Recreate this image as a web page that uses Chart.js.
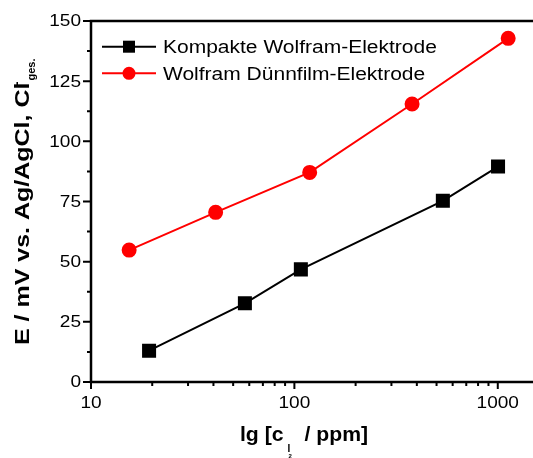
<!DOCTYPE html>
<html>
<head>
<meta charset="utf-8">
<script src="https://cdn.jsdelivr.net/npm/chart.js@4"></script>
<style>
  body { margin: 0; background: #fff; }
  #wrap { width: 533px; height: 458px; }
</style>
</head>
<body>
<div id="wrap"><canvas id="grafik"></canvas></div>
<script>
const kompaktX = [19.3, 57.1, 107.6, 537, 1003];
const kompaktY = [13.0, 32.7, 46.8, 75.3, 89.5];
const duennX = [15.4, 41.0, 118.9, 379, 1125];
const duennY = [54.8, 70.5, 87.1, 115.5, 142.8];
const serienNamen = ['Kompakte Wolfram-Elektrode', 'Wolfram Dünnfilm-Elektrode'];

// Achsenbeschriftung
const xHauptTicks = [10, 100, 1000];
const xNebenTicks = [20, 30, 40, 50, 60, 70, 80, 90, 200, 300, 400, 500, 600, 700, 800, 900];
const yHauptTicks = [0, 25, 50, 75, 100, 125, 150];
const yNebenTicks = [12.5, 37.5, 62.5, 87.5, 112.5, 137.5];

const SCHRIFT = '"Liberation Sans", Arial, sans-serif';

// Text horizontal gestreckt zeichnen, gibt Breite zurück
function textGestreckt(ctx, text, x, y, font, sx, align) {
    ctx.save();
    ctx.font = font;
    const w = ctx.measureText(text).width * sx;
    let x0 = x;
    if (align === 'center') x0 = x - w / 2;
    if (align === 'right') x0 = x - w;
    ctx.translate(x0, y);
    ctx.scale(sx, 1);
    ctx.textAlign = 'left';
    ctx.fillText(text, 0, 0);
    ctx.restore();
    return w;
}

function breite(ctx, text, font, sx) {
    ctx.save();
    ctx.font = font;
    const w = ctx.measureText(text).width * sx;
    ctx.restore();
    return w;
}

const achsenPlugin = {
    id: 'achsen',
    afterDraw(chart) {
        const ctx = chart.ctx;
        const ca = chart.chartArea;
        const xs = chart.scales.x;
        const ys = chart.scales.y;
        ctx.save();
        ctx.strokeStyle = '#000';
        ctx.fillStyle = '#000';

        // Rahmen (oben, links, unten)
        ctx.lineWidth = 2.5;
        ctx.beginPath();
        ctx.moveTo(ca.right, ca.top);
        ctx.lineTo(ca.left, ca.top);
        ctx.lineTo(ca.left, ca.bottom);
        ctx.lineTo(ca.right, ca.bottom);
        ctx.stroke();

        // Striche
        ctx.lineWidth = 2;
        ctx.beginPath();
        yHauptTicks.forEach(v => { const p = ys.getPixelForValue(v); ctx.moveTo(ca.left - 8, p); ctx.lineTo(ca.left, p); });
        yNebenTicks.forEach(v => { const p = ys.getPixelForValue(v); ctx.moveTo(ca.left - 4, p); ctx.lineTo(ca.left, p); });
        xHauptTicks.forEach(v => { const p = xs.getPixelForValue(v); ctx.moveTo(p, ca.bottom); ctx.lineTo(p, ca.bottom + 7); });
        xNebenTicks.forEach(v => { const p = xs.getPixelForValue(v); ctx.moveTo(p, ca.bottom); ctx.lineTo(p, ca.bottom + 4); });
        ctx.stroke();

        // Tick-Beschriftungen
        const tickFont = '16.3px ' + SCHRIFT;
        ctx.textBaseline = 'middle';
        yHauptTicks.forEach(v => textGestreckt(ctx, String(v), ca.left - 10, ys.getPixelForValue(v) + 1, tickFont, 1.17, 'right'));
        ctx.textBaseline = 'alphabetic';
        xHauptTicks.forEach(v => textGestreckt(ctx, String(v), xs.getPixelForValue(v), 408, tickFont, 1.17, 'center'));

        // x-Achsentitel: lg [c_{I2} / ppm]
        const fx = 'bold 20px ' + SCHRIFT;
        const fsub = 'bold 10px ' + SCHRIFT;
        const fsub2 = 'bold 6px ' + SCHRIFT;
        const teil1 = 'lg [c', teil2 = '/ ppm]';
        const w1 = breite(ctx, teil1, fx, 1.06);
        const w2 = breite(ctx, teil2, fx, 1.06);
        const gesamt = w1 + 21 + w2;
        let px = 304 - gesamt / 2;
        textGestreckt(ctx, teil1, px, 441, fx, 1.06, 'left');
        textGestreckt(ctx, 'I', px + w1 + 4, 452, fsub, 1, 'left');
        textGestreckt(ctx, '2', px + w1 + 5, 457.5, fsub2, 1, 'left');
        textGestreckt(ctx, teil2, px + w1 + 21, 441, fx, 1.06, 'left');

        // y-Achsentitel (gedreht)
        ctx.save();
        ctx.translate(28.5, 345);
        ctx.rotate(-Math.PI / 2);
        const fy = 'bold 21px ' + SCHRIFT;
        const haupt = 'E / mV vs. Ag/AgCl, Cl';
        const wh = textGestreckt(ctx, haupt, 0, 0, fy, 1.19, 'left');
        textGestreckt(ctx, '-', wh - 3, -8, 'bold 12px ' + SCHRIFT, 1, 'left');
        textGestreckt(ctx, 'ges.', wh + 2, 6.5, 'bold 11px ' + SCHRIFT, 1, 'left');
        ctx.restore();

        // Legende
        const zeilen = [46.7, 73.3];
        chart.data.datasets.forEach((ds, i) => {
            const y = zeilen[i];
            ctx.strokeStyle = ds.borderColor;
            ctx.fillStyle = ds.pointBackgroundColor;
            ctx.lineWidth = 2;
            ctx.beginPath();
            ctx.moveTo(102, y);
            ctx.lineTo(156, y);
            ctx.stroke();
            if (ds.pointStyle === 'rect') {
                ctx.fillRect(129 - 6, y - 6, 12, 12);
            } else {
                ctx.beginPath();
                ctx.arc(129, y, 6.5, 0, Math.PI * 2);
                ctx.fill();
            }
            ctx.fillStyle = '#000';
            textGestreckt(ctx, ds.label, 163, y + 6.5, '17.5px ' + SCHRIFT, 1.2, 'left');
        });
        ctx.restore();
    }
};

document.addEventListener('DOMContentLoaded', function () {
    const ctx = document.getElementById('grafik').getContext('2d');
    new Chart(ctx, {
        type: 'line',
        data: {
            datasets: [{
                label: serienNamen[0],
                data: kompaktX.map((x, i) => ({ x: x, y: kompaktY[i] })),
                borderColor: '#000000',
                pointBackgroundColor: '#000000',
                pointBorderColor: '#000000',
                pointStyle: 'rect',
                pointRadius: 8.5,
                borderWidth: 2,
                tension: 0
            }, {
                label: serienNamen[1],
                data: duennX.map((x, i) => ({ x: x, y: duennY[i] })),
                borderColor: '#ff0000',
                pointBackgroundColor: '#ff0000',
                pointBorderColor: '#ff0000',
                pointStyle: 'circle',
                pointRadius: 6.5,
                borderWidth: 2,
                tension: 0
            }]
        },
        options: {
            responsive: true,
            maintainAspectRatio: false,
            animation: false,
            devicePixelRatio: 1,
            layout: { autoPadding: false, padding: { top: 21, left: 0, right: 0, bottom: 0 } },
            plugins: { legend: { display: false }, tooltip: { enabled: false } },
            scales: {
                x: {
                    type: 'logarithmic',
                    min: 10,
                    max: 1490,
                    grid: { display: false },
                    border: { display: false },
                    ticks: { display: false },
                    afterFit: function (s) { s.height = 76; }
                },
                y: {
                    min: 0,
                    max: 150,
                    grid: { display: false },
                    border: { display: false },
                    ticks: { display: false },
                    afterFit: function (s) { s.width = 91; }
                }
            }
        },
        plugins: [achsenPlugin]
    });
});
</script>
</body>
</html>
